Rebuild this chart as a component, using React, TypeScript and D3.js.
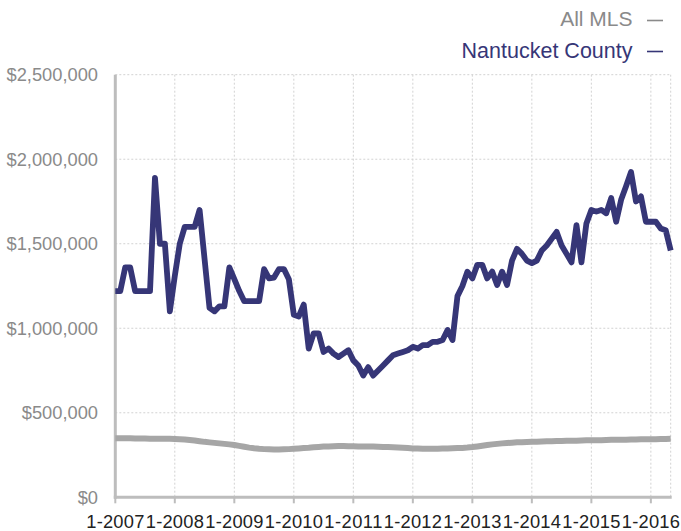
import React from "react";
import * as d3 from "d3";

const yearLabels = ["1-2007", "1-2008", "1-2009", "1-2010", "1-2011", "1-2012", "1-2013", "1-2014", "1-2015", "1-2016"];
const yTicks = [0, 500000, 1000000, 1500000, 2000000, 2500000];

// Monthly values, Jan 2007 .. May 2016 (in $ millions)
const nantucket = [
  1.22, 1.22, 1.36, 1.36, 1.22, 1.22, 1.22, 1.22, 1.89, 1.50, 1.50, 1.10,
  1.31, 1.50, 1.60, 1.60, 1.60, 1.70, 1.41, 1.12, 1.10, 1.13, 1.13, 1.36,
  1.29, 1.22, 1.16, 1.16, 1.16, 1.16, 1.35, 1.295, 1.30, 1.35, 1.35, 1.29,
  1.08, 1.07, 1.14, 0.88, 0.97, 0.97, 0.86, 0.88, 0.85, 0.83, 0.85, 0.87,
  0.81, 0.78, 0.72, 0.77, 0.72, 0.75, 0.78, 0.81, 0.84, 0.85, 0.86, 0.87,
  0.89, 0.88, 0.90, 0.90, 0.92, 0.92, 0.93, 0.99, 0.93, 1.19, 1.25, 1.335,
  1.295, 1.375, 1.375, 1.295, 1.335, 1.256, 1.335, 1.256, 1.40, 1.47, 1.44, 1.40,
  1.385, 1.40, 1.46, 1.49, 1.53, 1.57, 1.49, 1.44, 1.39, 1.61, 1.39, 1.62,
  1.70, 1.69, 1.70, 1.68, 1.77, 1.63, 1.76, 1.84, 1.925, 1.75, 1.78, 1.63,
  1.63, 1.63, 1.59, 1.58, 1.46,
];

// All MLS monthly values (in $ thousands)
const allMls = [
  350, 350, 349, 349, 348, 348, 348, 347, 347, 347, 346, 346,
  345, 344, 342, 339, 336, 332, 328, 325, 322, 319, 316, 313,
  309, 304, 299, 294, 290, 287, 285, 284, 283, 283, 284, 285,
  287, 289, 291, 293, 296, 298, 300, 301, 302, 303, 303, 302,
  302, 301, 301, 300, 300, 299, 298, 297, 296, 295, 293, 291,
  289, 288, 287, 287, 287, 287, 288, 289, 290, 291, 292, 294,
  297, 301, 305, 309, 313, 316, 319, 321, 323, 325, 326, 327,
  328, 329, 330, 331, 332, 333, 333, 334, 335, 335, 336, 337,
  337, 338, 338, 339, 340, 340, 341, 341, 342, 342, 343, 343,
  344, 344, 345, 345, 346,
];

const W = 681;
const H = 531;
const left = 115.3;
const right = 670.7;
const top = 74.7;
const bottom = 497.3;

const BLUE = "#363677";
const GRAY_LINE = "#a6a6a6";
const AXIS = "#bdbdbd";
const GRID = "#d2d2d2";
const LABEL = "#8a8a8a";
const FONT = "'Liberation Sans', Arial, Helvetica, sans-serif";

export default function App() {
  const n = nantucket.length;
  const x = d3.scaleLinear().domain([0, n - 1]).range([left, right]);
  const y = d3.scaleLinear().domain([0, 2500000]).range([bottom, top]);
  const fmt = (v: number) => "$" + d3.format(",")(v);

  const line = d3
    .line<number>()
    .x((_, i) => x(i))
    .y((d) => y(d));

  const blueVals = nantucket.map((v) => v * 1e6);
  const grayVals = allMls.map((v) => v * 1e3);
  const yearIdx = yearLabels.map((_, i) => i * 12);

  return (
    <svg
      width={W}
      height={H}
      style={{ position: "fixed", left: 0, top: 0, background: "#fff" }}
      fontFamily={FONT}
    >
      {/* horizontal grid */}
      {yTicks.map((t) => (
        <line
          key={"hg" + t}
          x1={left}
          x2={right}
          y1={y(t)}
          y2={y(t)}
          stroke={GRID}
          strokeWidth={1}
          strokeDasharray="2,2"
        />
      ))}
      {/* vertical grid */}
      {yearIdx.map((i) => (
        <line
          key={"vg" + i}
          x1={x(i)}
          x2={x(i)}
          y1={top}
          y2={bottom}
          stroke={GRID}
          strokeWidth={1}
          strokeDasharray="2,2"
        />
      ))}
      <line x1={right} x2={right} y1={top} y2={bottom} stroke={GRID} strokeWidth={1} strokeDasharray="2,2" />

      {/* axes */}
      <line x1={left} x2={left} y1={top} y2={bottom + 1.5} stroke={AXIS} strokeWidth={3} />
      <line x1={left - 1.5} x2={right + 1} y1={bottom} y2={bottom} stroke={AXIS} strokeWidth={3} />
      {yearIdx.map((i) => (
        <line key={"tk" + i} x1={x(i)} x2={x(i)} y1={bottom} y2={bottom + 6} stroke={AXIS} strokeWidth={2} />
      ))}

      {/* y labels */}
      {yTicks.map((t) => (
        <text
          key={"yl" + t}
          x={98}
          y={y(t)}
          dy="0.36em"
          textAnchor="end"
          fontSize={18.3}
          fill={LABEL}
        >
          {fmt(t)}
        </text>
      ))}

      {/* x labels */}
      {yearLabels.map((lab, k) => (
        <text
          key={"xl" + lab}
          x={x(yearIdx[k])}
          y={528}
          textAnchor="middle"
          fontSize={18.3}
          fill="#222"
          textLength={58}
          lengthAdjust="spacing"
        >
          {lab}
        </text>
      ))}

      {/* series */}
      <path
        d={line(grayVals) || ""}
        fill="none"
        stroke={GRAY_LINE}
        strokeWidth={6}
        strokeLinejoin="round"
      />
      <path
        d={line(blueVals) || ""}
        fill="none"
        stroke={BLUE}
        strokeWidth={5.8}
        strokeLinejoin="round"
      />

      {/* legend */}
      <text x={632.5} y={26} textAnchor="end" fontSize={21} fill={LABEL}>
        All MLS
      </text>
      <line x1={647} x2={663} y1={20.5} y2={20.5} stroke={LABEL} strokeWidth={1.6} />
      <text x={632.5} y={57.5} textAnchor="end" fontSize={21.5} fill={BLUE}>
        Nantucket County
      </text>
      <line x1={647} x2={663} y1={51.5} y2={51.5} stroke={BLUE} strokeWidth={1.6} />
    </svg>
  );
}
